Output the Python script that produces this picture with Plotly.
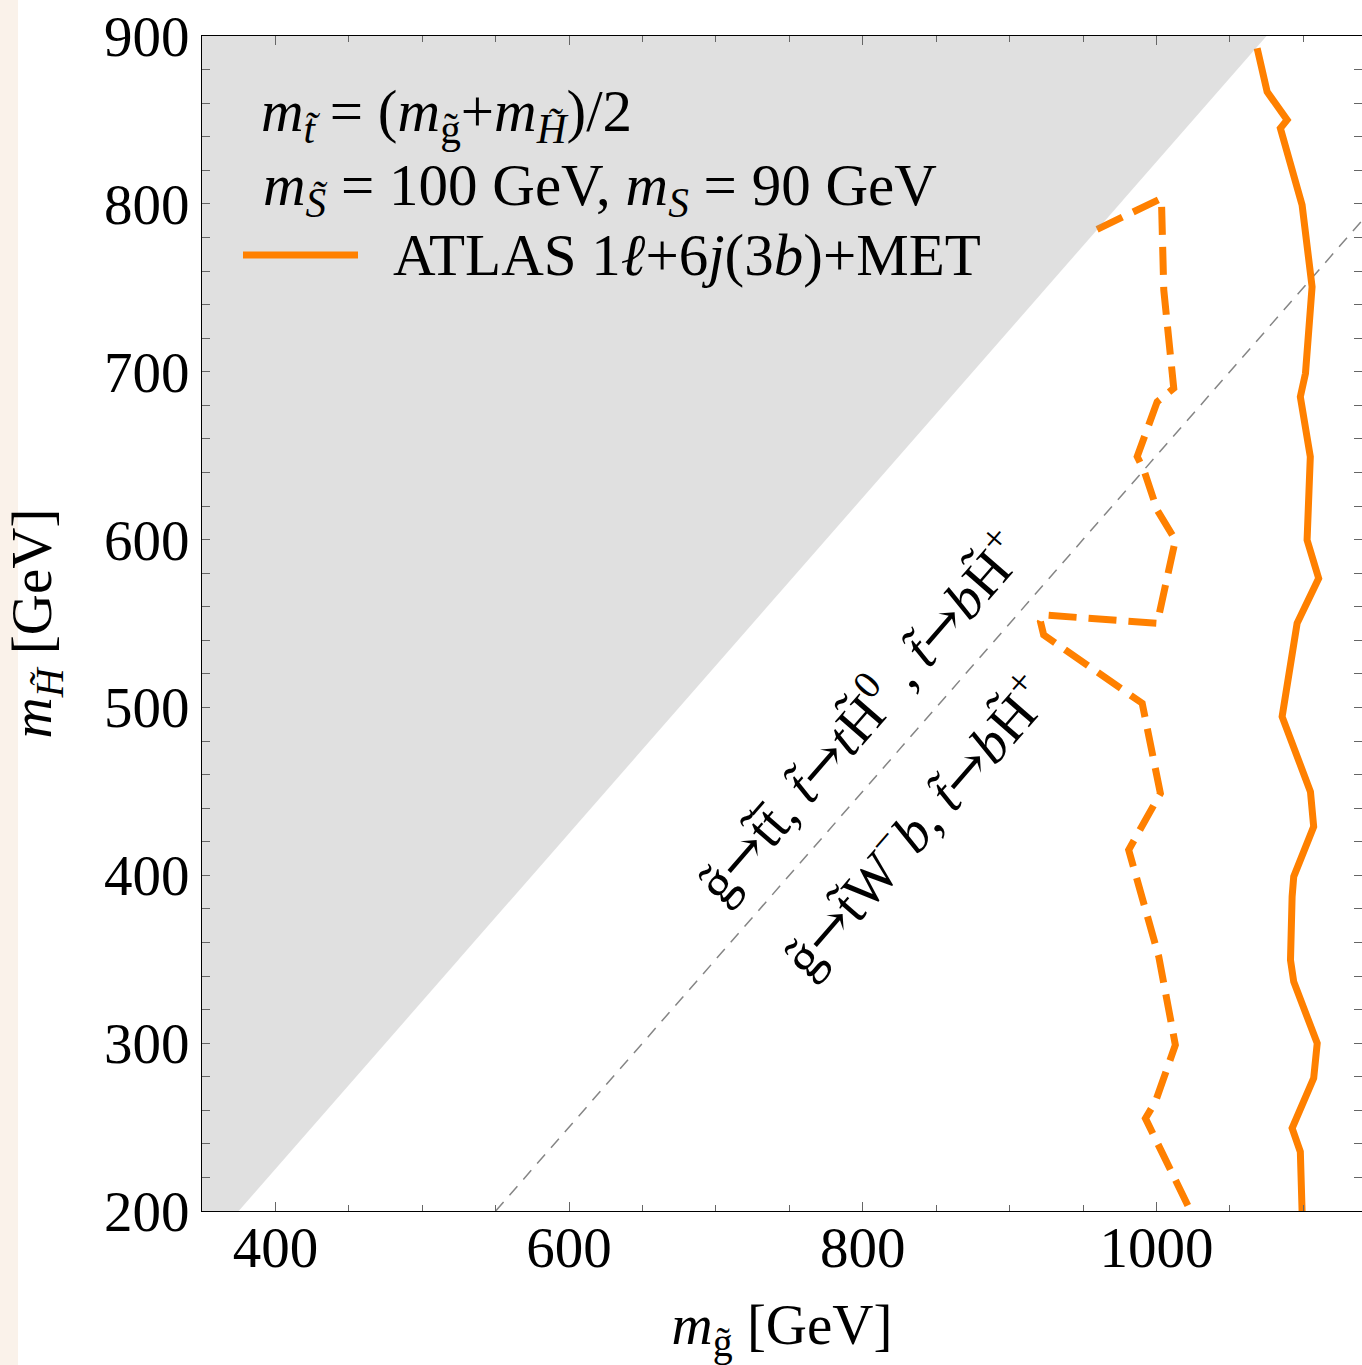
import plotly.graph_objects as go

# Axis ranges (GeV)
mg_range = [350, 1140]
mh_range = [200, 900]

# ATLAS 1l+6j(3b)+MET limit, solid contour: gluino mass vs higgsino mass (GeV)
solid_mg = [1068.6, 1075.4, 1089.0, 1084.4, 1099.2, 1106.0, 1101.5, 1098.0, 1104.8,
            1102.6, 1110.5, 1095.8, 1085.6, 1104.9, 1107.1, 1093.5, 1092.4, 1091.3,
            1093.5, 1109.5, 1107.1, 1092.4, 1098.0, 1099.2]
solid_mh = [892.7, 866.8, 850.0, 845.0, 799.3, 750.6, 699.0, 685.1, 649.4,
            599.7, 576.9, 550.1, 494.5, 449.8, 429.0, 399.2, 387.3, 349.5,
            336.6, 299.9, 279.1, 249.3, 235.3, 200.0]

# Same search, dashed contour
dash_mg = [959.6, 1003.4, 1005.0, 1011.8, 1000.5, 986.9, 991.4, 1000.5, 1012.9, 1000.5,
           923.2, 921.0, 923.2, 990.3, 1002.7, 981.1, 1001.6, 1012.9, 999.3, 992.5, 1023.2]
dash_mh = [784.8, 803.3, 748.7, 690.1, 682.1, 649.4, 641.5, 617.6, 599.7, 550.1,
           555.1, 551.1, 543.2, 502.5, 448.8, 415.1, 351.5, 298.9, 265.1, 255.2, 200.0]

# Kinematically closed region (shaded)
excl_mg = [350, 375, 1075, 350]
excl_mh = [200, 200, 900, 900]

# Threshold line separating the two decay regimes
diag_mg = [550, 1140]
diag_mh = [200, 790]

ORANGE = "#ff8000"
FONT = "Liberation Serif"

fig = go.Figure()

fig.add_trace(go.Scatter(
    x=diag_mg, y=diag_mh, mode="lines",
    line=dict(color="#858585", width=1.5, dash="12px,9px"),
    hoverinfo="skip", showlegend=False))

fig.add_trace(go.Scatter(
    x=dash_mg, y=dash_mh, mode="lines",
    line=dict(color=ORANGE, width=7, dash="28px,12px"),
    hoverinfo="skip", showlegend=False))

fig.add_trace(go.Scatter(
    x=solid_mg, y=solid_mh, mode="lines",
    line=dict(color=ORANGE, width=7),
    hoverinfo="skip", showlegend=False))

# translucent grey overlay on top of the curves
fig.add_trace(go.Scatter(
    x=excl_mg, y=excl_mh, mode="lines", fill="toself",
    fillcolor="rgba(152,152,152,0.3)", line=dict(width=0),
    hoverinfo="skip", showlegend=False))

tick_common = dict(
    ticks="inside", tickcolor="#666666", tickwidth=1.3,
    showline=True, linecolor="black", linewidth=1.3, mirror="ticks",
    showgrid=False, zeroline=False,
    tickfont=dict(family=FONT, size=57, color="black"),
)

fig.update_xaxes(
    range=mg_range, tickmode="linear", tick0=0, dtick=200, ticklen=9,
    minor=dict(tickmode="linear", tick0=0, dtick=50, ticklen=5.5,
               ticks="inside", tickcolor="#666666", tickwidth=1.3, showgrid=False),
    ticklabelstandoff=-14,
    title=dict(text="<i>m</i><sub>g\u0303</sub> [GeV]",
               font=dict(family=FONT, size=57, color="black"), standoff=26),
    **tick_common)

fig.update_yaxes(
    range=mh_range, tickmode="linear", tick0=0, dtick=100, ticklen=8,
    minor=dict(tickmode="linear", tick0=0, dtick=20, ticklen=8,
               ticks="inside", tickcolor="#666666", tickwidth=1.3, showgrid=False),
    ticklabelstandoff=0,
    title=dict(text="<i>m</i><sub><i>H\u0303</i></sub> [GeV]",
               font=dict(family=FONT, size=57, color="black"), standoff=34),
    **tick_common)

# left page edge strip
fig.add_shape(type="rect", xref="paper", yref="paper",
              x0=-202 / 1160, x1=-184 / 1160, y0=-154 / 1175, y1=1365 / 1175 - 154 / 1175,
              fillcolor="#faf2ea", line=dict(width=0), layer="below")

# legend / labels block
txt_font = dict(family=FONT, size=59, color="black")
fig.add_annotation(
    xref="paper", yref="paper", x=0.05, y=0.933, xanchor="left", yanchor="middle",
    text="<i>m</i><sub><i>t\u0303</i></sub> = (<i>m</i><sub>g\u0303</sub>+<i>m</i><sub><i>H\u0303</i></sub>)/2",
    showarrow=False, font=txt_font, borderpad=0)
fig.add_annotation(
    xref="paper", yref="paper", x=0.052, y=0.870, xanchor="left", yanchor="middle",
    text="<i>m</i><sub><i>S\u0303</i></sub> = 100 GeV, <i>m</i><sub><i>S</i></sub> = 90 GeV",
    showarrow=False, font=txt_font, borderpad=0)
fig.add_shape(type="line", xref="paper", yref="paper",
              x0=(243 - 202) / 1160, x1=(358 - 202) / 1160,
              y0=(1211 - 255) / 1175, y1=(1211 - 255) / 1175,
              line=dict(color=ORANGE, width=7))
fig.add_annotation(
    xref="paper", yref="paper", x=0.164, y=0.814, xanchor="left", yanchor="middle",
    text="ATLAS 1<i>\u2113</i>+6<i>j</i>(3<i>b</i>)+MET",
    showarrow=False, font=txt_font, borderpad=0)

# decay-channel labels along the threshold line
ARROW = "<span style='font-family:DejaVu Serif'>\u2192</span>"
fig.add_annotation(
    x=797, y=495, textangle=-49, showarrow=False,
    text=("g\u0303" + ARROW + "t\u0303t\u0304, <i>t\u0303</i>" + ARROW +
          "<i>t</i>H\u0303<sup>0</sup> , <i>t\u0303</i>" + ARROW + "<i>b</i>H\u0303<sup>+</sup>"),
    font=dict(family=FONT, size=56, color="black"))
fig.add_annotation(
    x=835, y=430, textangle=-49, showarrow=False,
    text=("g\u0303" + ARROW + "t\u0303W<sup>\u2212</sup><i>b</i>, <i>t\u0303</i>" + ARROW +
          "<i>b</i>H\u0303<sup>+</sup>"),
    font=dict(family=FONT, size=56, color="black"))

fig.update_layout(
    width=1362, height=1365, autosize=False,
    margin=dict(l=202, r=0, t=36, b=154),
    plot_bgcolor="white", paper_bgcolor="white",
    font=dict(family=FONT, color="black"),
)

fig.write_html("out.html")
